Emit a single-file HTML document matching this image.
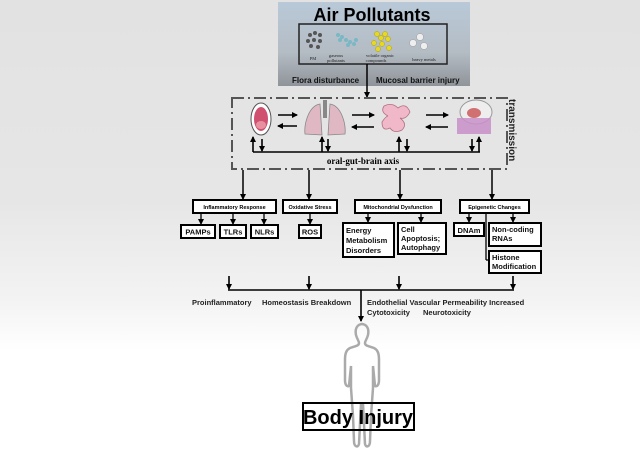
<!DOCTYPE html>
<html><head><meta charset="utf-8"><style>
html,body{margin:0;padding:0}
body{width:640px;height:455px;position:relative;overflow:hidden;font-family:"Liberation Sans",sans-serif;background:linear-gradient(#e2e2e2 0px,#e6e6e6 200px,#f3f3f3 300px,#fff 350px,#fff 455px)}
svg{position:absolute;left:0;top:0}
</style></head><body>
<svg width="640" height="455" viewBox="0 0 640 455" font-family="Liberation Sans, sans-serif">
<defs>
<linearGradient id="tg" x1="0" y1="0" x2="0" y2="1">
<stop offset="0" stop-color="#b9c9d8"/><stop offset="0.6" stop-color="#b4bcc4"/><stop offset="1" stop-color="#8f9499"/>
</linearGradient>
<marker id="ah" markerWidth="6" markerHeight="6" refX="5" refY="3" orient="auto" markerUnits="userSpaceOnUse"><path d="M0,0 L6,3 L0,6 z" fill="#000"/></marker>
</defs>
<rect x="278" y="2" width="192" height="84" fill="url(#tg)"/>
<text x="372" y="21" font-size="18" font-weight="bold" text-anchor="middle">Air Pollutants</text>
<rect x="299" y="24" width="148" height="40" fill="none" stroke="#222" stroke-width="1.5"/>
<g fill="#555">
<circle cx="310" cy="35" r="2"/><circle cx="315" cy="33" r="2"/><circle cx="320" cy="35" r="2"/><circle cx="308" cy="41" r="2"/><circle cx="314" cy="40" r="2"/><circle cx="320" cy="41" r="2"/><circle cx="311" cy="46" r="2"/><circle cx="318" cy="47" r="2"/></g>
<g fill="#7ab8c4"><circle cx="338" cy="35" r="2"/><circle cx="342" cy="37" r="2"/><circle cx="346" cy="40" r="2"/><circle cx="350" cy="42" r="2"/><circle cx="354" cy="44" r="2"/><circle cx="340" cy="40" r="2"/><circle cx="348" cy="45" r="2"/><circle cx="356" cy="40" r="2"/></g>
<g fill="#e8d820" stroke="#b0a000" stroke-width=".5"><circle cx="377" cy="34" r="2.5"/><circle cx="385" cy="34" r="2.5"/><circle cx="381" cy="38" r="2.5"/><circle cx="388" cy="39" r="2.5"/><circle cx="374" cy="43" r="2.5"/><circle cx="382" cy="44" r="2.5"/><circle cx="389" cy="48" r="2.5"/><circle cx="378" cy="49" r="2.5"/></g>
<g fill="#eee" stroke="#999" stroke-width=".5"><circle cx="420" cy="37" r="3.5"/><circle cx="413" cy="43" r="3.5"/><circle cx="424" cy="46" r="3.5"/></g>
<g font-family="Liberation Serif, serif" font-size="4.5" fill="#222" text-anchor="middle">
<text x="313" y="60">PM</text><text x="336" y="57">gaseous</text><text x="336" y="62">pollutants</text>
<text x="380" y="57">volatile organic</text><text x="376" y="62">compounds</text><text x="424" y="61">heavy metals</text></g>
<text x="292" y="83" font-size="8" font-weight="bold" fill="#111">Flora disturbance</text>
<text x="376" y="83" font-size="8" font-weight="bold" fill="#111">Mucosal barrier injury</text>
<line x1="367" y1="64" x2="367" y2="97" stroke="#000" stroke-width="1.5" marker-end="url(#ah)"/>
<rect x="232" y="98" width="275" height="71" fill="none" stroke="#555" stroke-width="2" stroke-dasharray="12,4,2,4"/>
<text transform="translate(509,99) rotate(90)" font-size="10" font-weight="bold" fill="#222">transmission</text>
<ellipse cx="261" cy="119" rx="10" ry="16" fill="#fff" stroke="#555"/>
<ellipse cx="261" cy="119" rx="7" ry="12" fill="#d05070"/>
<ellipse cx="261" cy="125" rx="5" ry="4" fill="#e890a0"/>
<path d="M320,104 C308,106 304,125 305,134 L322,135 Z M330,104 C342,106 346,125 345,134 L328,135 Z" fill="#e0b8c4" stroke="#888" stroke-width=".8"/>
<rect x="323" y="100" width="4" height="18" fill="#888"/>
<path d="M384,106 q8,-4 14,2 q8,-6 12,4 q-4,8 -10,6 q8,6 2,12 q-8,4 -12,-2 q-8,4 -8,-6 q4,-6 6,-6 q-8,-4 -4,-10z" fill="#f0b8c8" stroke="#b07080" stroke-width=".8"/>
<ellipse cx="476" cy="112" rx="16" ry="12" fill="#eee" stroke="#999"/>
<ellipse cx="474" cy="113" rx="7" ry="5" fill="#d07070"/>
<rect x="457" y="118" width="34" height="16" fill="#c890c8" opacity=".85"/>
<g stroke="#000" stroke-width="1.6" marker-end="url(#ah)">
<line x1="278" y1="115" x2="297" y2="115"/><line x1="297" y1="126" x2="278" y2="126"/>
<line x1="352" y1="115" x2="374" y2="115"/><line x1="374" y1="127" x2="352" y2="127"/>
<line x1="426" y1="115" x2="448" y2="115"/><line x1="448" y1="127" x2="426" y2="127"/>
<line x1="253" y1="152" x2="253" y2="137"/><line x1="262" y1="139" x2="262" y2="151"/>
<line x1="322" y1="152" x2="322" y2="137"/><line x1="328" y1="139" x2="328" y2="151"/>
<line x1="399" y1="152" x2="399" y2="137"/><line x1="407" y1="139" x2="407" y2="151"/>
<line x1="472" y1="139" x2="472" y2="151"/><line x1="479" y1="152" x2="479" y2="137"/>
</g>
<line x1="253" y1="152" x2="480" y2="152" stroke="#000" stroke-width="1.6"/>
<text x="363" y="164" font-family="Liberation Serif, serif" font-size="9" font-weight="bold" text-anchor="middle">oral-gut-brain axis</text>
<g stroke="#000" stroke-width="1.5" marker-end="url(#ah)">
<line x1="243" y1="170" x2="243" y2="199"/><line x1="309" y1="170" x2="309" y2="199"/><line x1="400" y1="170" x2="400" y2="199"/><line x1="492" y1="170" x2="492" y2="199"/>
</g>
<g fill="#fff" stroke="#000" stroke-width="2">
<rect x="193" y="200" width="83" height="13"/><rect x="283" y="200" width="54" height="13"/><rect x="355" y="200" width="86" height="13"/><rect x="460" y="200" width="69" height="13"/>
<rect x="181" y="225" width="34" height="13"/><rect x="220" y="225" width="26" height="13"/><rect x="251" y="225" width="27" height="13"/>
<rect x="299" y="225" width="22" height="13"/>
<rect x="343" y="223" width="51" height="34"/><rect x="398" y="223" width="48" height="31"/>
<rect x="454" y="223" width="30" height="13"/><rect x="489" y="223" width="52" height="23"/><rect x="489" y="251" width="52" height="22"/>
</g>
<g font-size="5.5" font-weight="bold" text-anchor="middle">
<text x="234.5" y="209">Inflammatory Response</text><text x="310" y="209">Oxidative Stress</text><text x="398" y="209">Mitochondrial Dysfunction</text><text x="494.5" y="209">Epigenetic Changes</text></g>
<g font-size="7.5" font-weight="bold" fill="#111">
<text x="198" y="234.5" text-anchor="middle">PAMPs</text><text x="233" y="234.5" text-anchor="middle">TLRs</text><text x="264.5" y="234.5" text-anchor="middle">NLRs</text><text x="310" y="234.5" text-anchor="middle">ROS</text>
<text x="346" y="233">Energy</text><text x="346" y="243">Metabolism</text><text x="346" y="253">Disorders</text>
<text x="401" y="232">Cell</text><text x="401" y="241">Apoptosis;</text><text x="401" y="250">Autophagy</text>
<text x="469" y="233" text-anchor="middle">DNAm</text>
<text x="492" y="232">Non-coding</text><text x="492" y="241">RNAs</text>
<text x="492" y="260">Histone</text><text x="492" y="269">Modification</text></g>
<g stroke="#000" stroke-width="1.3">
<line x1="201" y1="213" x2="201" y2="224" marker-end="url(#ah)"/><line x1="233" y1="213" x2="233" y2="224" marker-end="url(#ah)"/><line x1="264" y1="213" x2="264" y2="224" marker-end="url(#ah)"/>
<line x1="310" y1="213" x2="310" y2="224" marker-end="url(#ah)"/>
<line x1="368" y1="213" x2="368" y2="222" marker-end="url(#ah)"/><line x1="421" y1="213" x2="421" y2="222" marker-end="url(#ah)"/>
<line x1="469" y1="213" x2="469" y2="222" marker-end="url(#ah)"/><line x1="513" y1="213" x2="513" y2="222" marker-end="url(#ah)"/>
<line x1="486" y1="213" x2="486" y2="260"/><line x1="486" y1="260" x2="488" y2="260"/>
</g>
<g stroke="#000" stroke-width="1.6" marker-end="url(#ah)">
<line x1="229" y1="276" x2="229" y2="289"/><line x1="309" y1="276" x2="309" y2="289"/><line x1="399" y1="276" x2="399" y2="289"/><line x1="513" y1="276" x2="513" y2="289"/>
<line x1="361" y1="290" x2="361" y2="321"/>
</g>
<line x1="228" y1="290" x2="514" y2="290" stroke="#000" stroke-width="1.6"/>
<g font-size="7.5" font-weight="bold" fill="#222">
<text x="192" y="305">Proinflammatory</text><text x="262" y="305">Homeostasis Breakdown</text>
<text x="367" y="305">Endothelial Vascular Permeability Increased</text>
<text x="367" y="315">Cytotoxicity</text><text x="423" y="315">Neurotoxicity</text></g>
<path d="M363,324 c-7,0 -8,6 -7,11 c1,4 3,6 3,8 c0,3 -4,3 -9,5 c-4,2 -5,6 -5,12 l0,20 c0,5 2,7 4,6 l2,-20 l0,22 l2,28 l1,25 c0,6 4,7 5,3 l2,-40 l2,0 l2,40 c1,4 5,3 5,-3 l1,-25 l2,-28 l0,-22 l2,20 c2,1 4,-1 4,-6 l0,-20 c0,-6 -1,-10 -5,-12 c-5,-2 -9,-2 -9,-5 c0,-2 2,-4 3,-8 c1,-5 0,-11 -7,-11z" fill="none" stroke="#aaa" stroke-width="2.5"/>
<rect x="303" y="403" width="111" height="27" fill="none" stroke="#000" stroke-width="2"/>
<text x="358" y="424" font-size="20" font-weight="bold" text-anchor="middle">Body Injury</text>
</svg>
</body></html>
